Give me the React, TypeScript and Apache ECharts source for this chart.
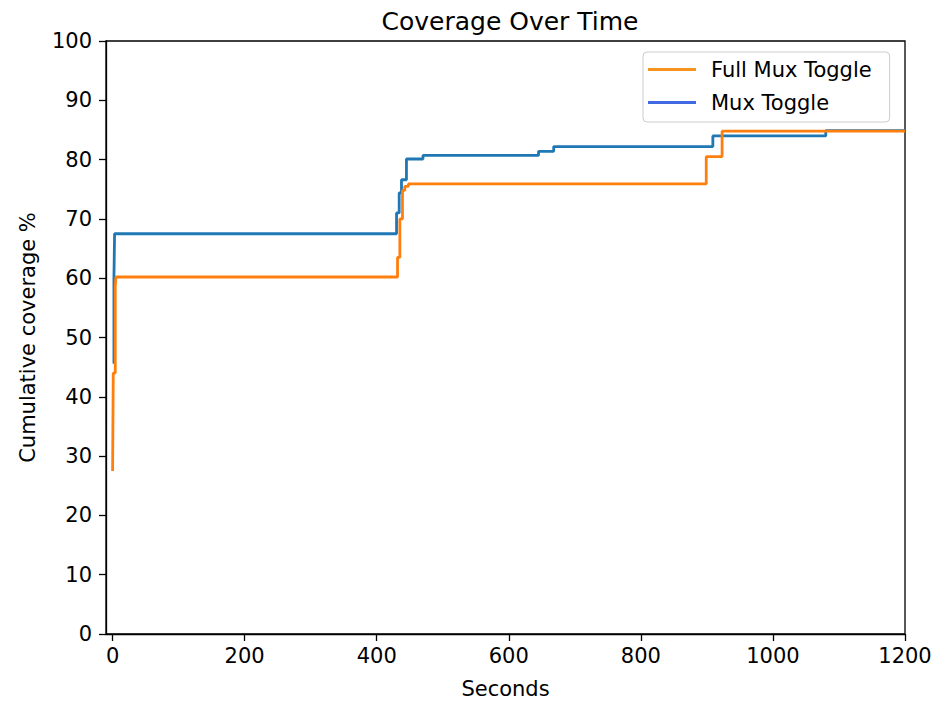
import React, { useEffect, useRef } from "react";
import * as echarts from "echarts";

const titleText = "Coverage Over Time";
const xAxisName = "Seconds";
const yAxisName = "Cumulative coverage %";
const xTickValues = [0, 200, 400, 600, 800, 1000, 1200];

const seriesNames = ["Full Mux Toggle", "Mux Toggle"];

const fullMuxX = [0, 1, 4, 5, 431.5, 435, 439, 442.5, 448, 899, 923, 1200];
const fullMuxY = [27.5, 44, 58.5, 60.2, 63.5, 70, 74.8, 75.5, 75.9, 80.5, 84.8, 84.8];

const muxX = [0, 2, 3, 430, 434, 437.5, 445, 470, 645, 668, 909, 1080, 1200];
const muxY = [45.8, 60, 67.5, 71, 74.4, 76.6, 80.1, 80.7, 81.4, 82.2, 84.0, 84.9, 84.9];

const FONT = "DejaVu Sans";

export default function App() {
  const ref = useRef<HTMLDivElement>(null);
  useEffect(() => {
    if (!ref.current) return;
    const chart = echarts.init(ref.current, null, { renderer: "svg" });
    const fullData = fullMuxX.map((x, i) => [x, fullMuxY[i]]);
    const muxData = muxX.map((x, i) => [x, muxY[i]]);
    chart.setOption({
      animation: false,
      backgroundColor: "#ffffff",
      textStyle: { fontFamily: FONT },
      title: {
        text: titleText,
        left: 505,
        top: 4,
        textAlign: "center",
        textStyle: { fontFamily: FONT, fontSize: 25, fontWeight: "normal", color: "#000" },
      },
      grid: {
        left: 106,
        top: 41,
        width: 799,
        height: 594,
        show: true,
        borderColor: "#000",
        borderWidth: 1.3,
        backgroundColor: "transparent",
      },
      legend: {
        orient: "vertical",
        left: 643,
        top: 52,
        padding: [7, 18, 9, 5],
        itemGap: 12,
        itemWidth: 48,
        itemHeight: 3,
        icon: "rect",
        borderColor: "#cccccc",
        borderWidth: 1,
        borderRadius: 4,
        backgroundColor: "#ffffff",
        textStyle: { fontFamily: FONT, fontSize: 21, color: "#000", padding: [0, 0, 0, 10] },
        data: [
          { name: seriesNames[0], itemStyle: { color: "#f7941d" } },
          { name: seriesNames[1], itemStyle: { color: "#4169e1" } },
        ],
      },
      xAxis: {
        type: "value",
        min: -10,
        max: 1200,
        name: xAxisName,
        nameLocation: "middle",
        nameGap: 44,
        nameTextStyle: { fontFamily: FONT, fontSize: 21, color: "#000" },
        axisLine: { show: true, onZero: false, lineStyle: { color: "#000", width: 1.3 } },
        axisTick: { show: true, length: 7, lineStyle: { color: "#000", width: 1.3 }, customValues: xTickValues },
        axisLabel: {
          fontFamily: FONT,
          fontSize: 21,
          color: "#000",
          margin: 11,
          customValues: xTickValues,
          formatter: (v: number) => String(v),
        },
        splitLine: { show: false },
      },
      yAxis: {
        type: "value",
        min: 0,
        max: 100,
        interval: 10,
        name: yAxisName,
        nameLocation: "middle",
        nameGap: 68,
        nameRotate: 90,
        nameTextStyle: { fontFamily: FONT, fontSize: 21, color: "#000" },
        axisLine: { show: true, onZero: false, lineStyle: { color: "#000", width: 1.3 } },
        axisTick: { show: true, length: 7, lineStyle: { color: "#000", width: 1.3 } },
        axisLabel: { fontFamily: FONT, fontSize: 21, color: "#000", margin: 14, formatter: (v: number) => String(v) },
        splitLine: { show: false },
      },
      series: [
        {
          name: seriesNames[1],
          type: "line",
          step: "end",
          data: muxData,
          showSymbol: false,
          symbol: "none",
          color: "#1f77b4",
          lineStyle: { color: "#1f77b4", width: 2.8 },
          z: 2,
        },
        {
          name: seriesNames[0],
          type: "line",
          step: "end",
          data: fullData,
          showSymbol: false,
          symbol: "none",
          color: "#ff7f0e",
          lineStyle: { color: "#ff7f0e", width: 2.8 },
          z: 3,
        },
      ],
    });
    return () => chart.dispose();
  }, []);
  return (
    <div
      ref={ref}
      style={{ position: "fixed", left: 0, top: 0, width: 936, height: 704, background: "#fff" }}
    />
  );
}
